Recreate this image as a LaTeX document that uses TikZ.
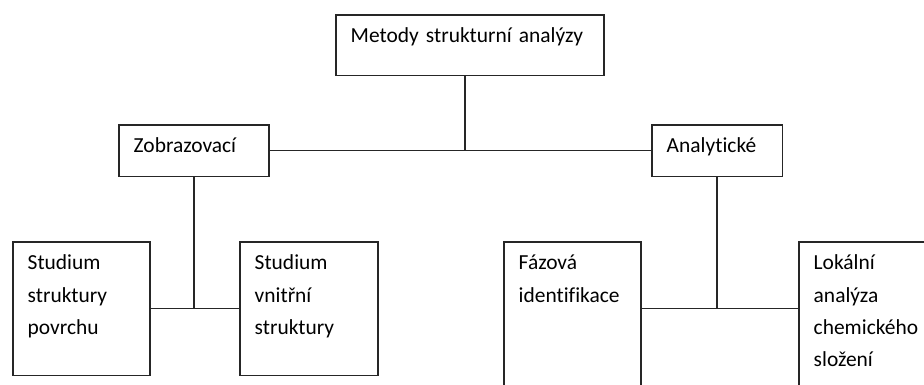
\documentclass[tikz,border=0pt]{standalone}
\usepackage{fontspec}
\setmainfont{Carlito}[Ligatures=NoCommon, WordSpace=0.7]
\usetikzlibrary{positioning}

\tikzset{
  methodbox/.style={draw=black!85, line width=0.9pt, anchor=north west, align=left,
    inner xsep=8.5pt, inner ysep=7pt, text height=9pt,
    font=\fontsize{12.2}{18.4}\selectfont},
  link/.style={draw=black!85, line width=0.9pt}
}

\begin{document}
\begin{tikzpicture}[x=0.02cm, y=-0.02cm]
  \clip (0,0) rectangle (924,385);

  % Top level
  \node[methodbox, text width=135.5pt, text depth=11.6pt] (methods) at (335,14) {Metody strukturní analýzy};

  % Second level
  \node[methodbox, text width=68.6pt, text depth=6.5pt] (imaging) at (118,124) {Zobrazovací};
  \node[methodbox, text width=57.3pt, text depth=6.5pt] (analytic) at (651,124) {Analytické};

  % Leaves
  \node[methodbox, text width=61.2pt, text depth=53pt] (surface) at (12,241) {Studium\\struktury\\povrchu};
  \node[methodbox, text width=61.8pt, text depth=53pt] (interior) at (239,241) {Studium\\vnitřní\\struktury};
  \node[methodbox, text width=61.2pt, text depth=73.4pt] (phase) at (503,241) {Fázová\\identifikace};
  \node[methodbox, text width=68pt, text depth=73.4pt] (local) at (798,241) {Lokální\\analýza\\chemického\\složení};

  % Connectors
  \coordinate (hub) at ([xshift=-0.1cm]methods.south);
  \draw[link] (hub) -- (hub |- imaging.east);
  \draw[link] (imaging.east) -- (analytic.west);
  \draw[link] (imaging.south) -- (imaging.south |- surface.east);
  \draw[link] (surface.east) -- (interior.west);
  \draw[link] (analytic.south) -- (analytic.south |- surface.east);
  \draw[link] (phase.east |- surface.east) -- (local.west |- surface.east);
\end{tikzpicture}
\end{document}
